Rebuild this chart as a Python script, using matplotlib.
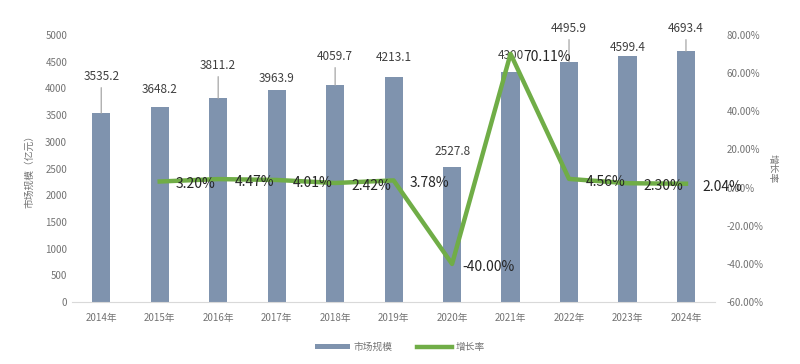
import matplotlib.pyplot as plt
import numpy as np

plt.rcParams['font.family'] = ['Noto Sans CJK SC', 'DejaVu Sans']

# 数据
years = ['2014年', '2015年', '2016年', '2017年', '2018年', '2019年',
         '2020年', '2021年', '2022年', '2023年', '2024年']
market = [3535.2, 3648.2, 3811.2, 3963.9, 4059.7, 4213.1,
          2527.8, 4300, 4495.9, 4599.4, 4693.4]
growth = [None, 3.20, 4.47, 4.01, 2.42, 3.78, -40.00, 70.11, 4.56, 2.30, 2.04]

# 标签位置（数据坐标），以及是否画引线
label_y = [4213, 3970, 4419, 4176, 4588, 4569, 2828, 4607, 5112, 4757, 5112]
leader = [True, False, True, False, True, False, False, False, True, False, True]

bar_color = '#7f93ae'
line_color = '#70ad47'
text_gray = '#737373'

fig = plt.figure(figsize=(8, 3.64), dpi=100)
ax = fig.add_axes([0.09, 0.170, 0.804, 0.734])
ax2 = ax.twinx()

x = np.arange(len(years))
ax.bar(x, market, width=0.31, color=bar_color, label='市场规模', zorder=2)
ax.set_xlim(-0.5, len(years) - 0.5)
ax.set_ylim(0, 5000)
ax.set_yticks(np.arange(0, 5001, 500))
ax.set_xticks(x)
ax.set_xticklabels(years)
ax.tick_params(axis='both', length=0, labelsize=7, colors=text_gray)
ax.tick_params(axis='x', pad=8)
ax.set_ylabel('市场规模（亿元）', fontsize=7, color=text_gray, labelpad=8)

for s in ['top', 'right', 'left']:
    ax.spines[s].set_visible(False)
ax.spines['bottom'].set_color('#d9d9d9')

# 柱状图数值标签
for i, v in enumerate(market):
    lab = f'{v:g}' if v == int(v) else f'{v:.1f}'
    if leader[i]:
        ax.annotate(lab, xy=(i, v), xytext=(i, label_y[i]), ha='center', va='center',
                    fontsize=8.5, color='#404040',
                    arrowprops=dict(arrowstyle='-', color='#a6a6a6', lw=0.9,
                                    shrinkA=1, shrinkB=0))
    else:
        ax.text(i, label_y[i], lab, ha='center', va='center', fontsize=8.5, color='#404040')

# 增长率折线
gx = [i for i, g in enumerate(growth) if g is not None]
gy = [g for g in growth if g is not None]
ax2.plot(gx, gy, color=line_color, lw=3.2, label='增长率', zorder=3)
ax2.set_ylim(-60, 80)
ax2.set_yticks(np.arange(-60, 81, 20))
ax2.set_yticklabels([f'{t:.2f}%' for t in np.arange(-60, 81, 20)])
ax2.tick_params(axis='y', length=0, labelsize=7, colors=text_gray, pad=8)
ax2.set_ylabel('增长率', fontsize=7, color=text_gray, rotation=270, labelpad=10)
for s in ['top', 'right', 'left', 'bottom']:
    ax2.spines[s].set_visible(False)

for i, g in zip(gx, gy):
    ax2.annotate(f'{g:.2f}%', xy=(i, g), xytext=(26, -2), textcoords='offset points',
                 ha='center', va='center', fontsize=10, color='#262626', zorder=4)

# 图例
h1, l1 = ax.get_legend_handles_labels()
h2, l2 = ax2.get_legend_handles_labels()
leg = fig.legend(h1 + h2, l1 + l2, loc='center', bbox_to_anchor=(0.5, 0.047), ncol=2,
                 frameon=False, fontsize=7, handlelength=3.6, handleheight=0.4,
                 columnspacing=2.5, handletextpad=0.4)
for t in leg.get_texts():
    t.set_color(text_gray)

fig.savefig('out.png', dpi=100)
